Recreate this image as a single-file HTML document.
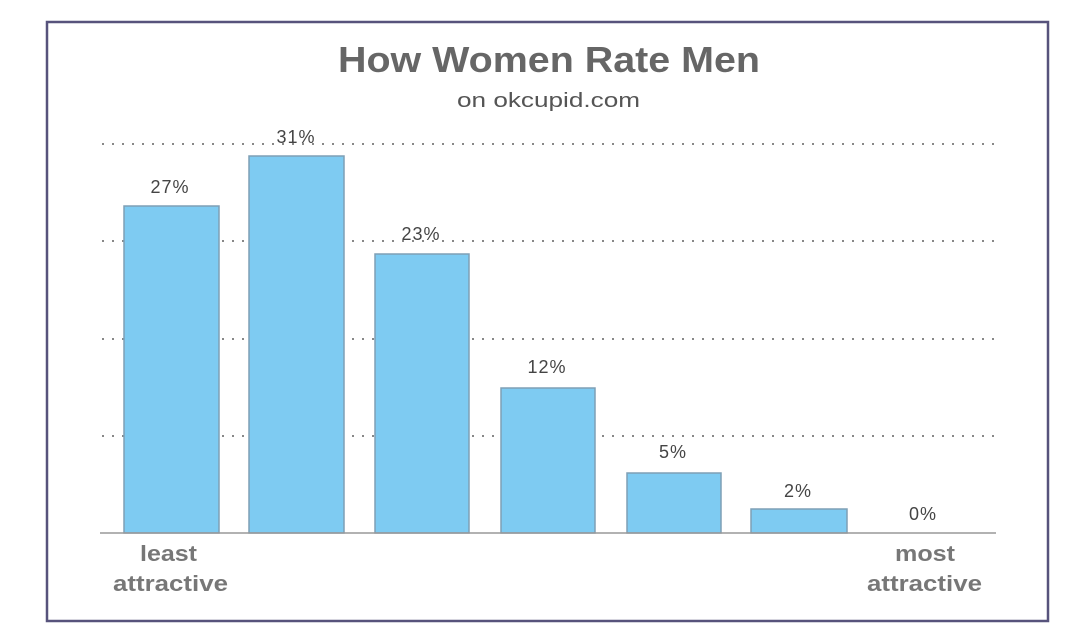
<!DOCTYPE html>
<html><head><style>
body{margin:0;background:#fff;}
svg{display:block;font-family:"Liberation Sans",sans-serif;}
</style></head><body>
<svg width="1082" height="642" viewBox="0 0 1082 642">
<rect x="0" y="0" width="1082" height="642" fill="#fff"/>
<rect x="47" y="22" width="1001" height="599" fill="#fff" stroke="#57537c" stroke-width="2.5"/>
<text x="338" y="72" font-size="36" font-weight="bold" fill="#666" textLength="422" lengthAdjust="spacingAndGlyphs">How Women Rate Men</text>
<text x="457" y="107" font-size="20" fill="#555" textLength="183" lengthAdjust="spacingAndGlyphs">on okcupid.com</text>
<g stroke="#888" stroke-width="2" stroke-dasharray="2 8">
<line x1="102" y1="144" x2="996" y2="144"/>
<line x1="102" y1="241" x2="996" y2="241"/>
<line x1="102" y1="339" x2="996" y2="339"/>
<line x1="102" y1="436" x2="996" y2="436"/>
</g>
<g fill="#7ecbf2" stroke="#7f9fb5" stroke-width="1.5">
<rect x="124" y="206" width="95" height="327"/>
<rect x="249" y="156" width="95" height="377"/>
<rect x="375" y="254" width="94" height="279"/>
<rect x="501" y="388" width="94" height="145"/>
<rect x="627" y="473" width="94" height="60"/>
<rect x="751" y="509" width="96" height="24"/>
</g>
<line x1="100" y1="533" x2="996" y2="533" stroke="#999" stroke-width="1.5"/>
<g font-size="18" fill="#444" text-anchor="middle" letter-spacing="1">
<text x="170" y="193">27%</text>
<text x="296" y="143">31%</text>
<text x="421" y="240">23%</text>
<text x="547" y="373">12%</text>
<text x="673" y="458">5%</text>
<text x="798" y="497">2%</text>
<text x="923" y="520">0%</text>
</g>
<g font-size="22" font-weight="bold" fill="#777">
<text x="140" y="561" textLength="57" lengthAdjust="spacingAndGlyphs">least</text>
<text x="113" y="591" textLength="115" lengthAdjust="spacingAndGlyphs">attractive</text>
<text x="895" y="561" textLength="60" lengthAdjust="spacingAndGlyphs">most</text>
<text x="867" y="591" textLength="115" lengthAdjust="spacingAndGlyphs">attractive</text>
</g>
</svg>
</body></html>
